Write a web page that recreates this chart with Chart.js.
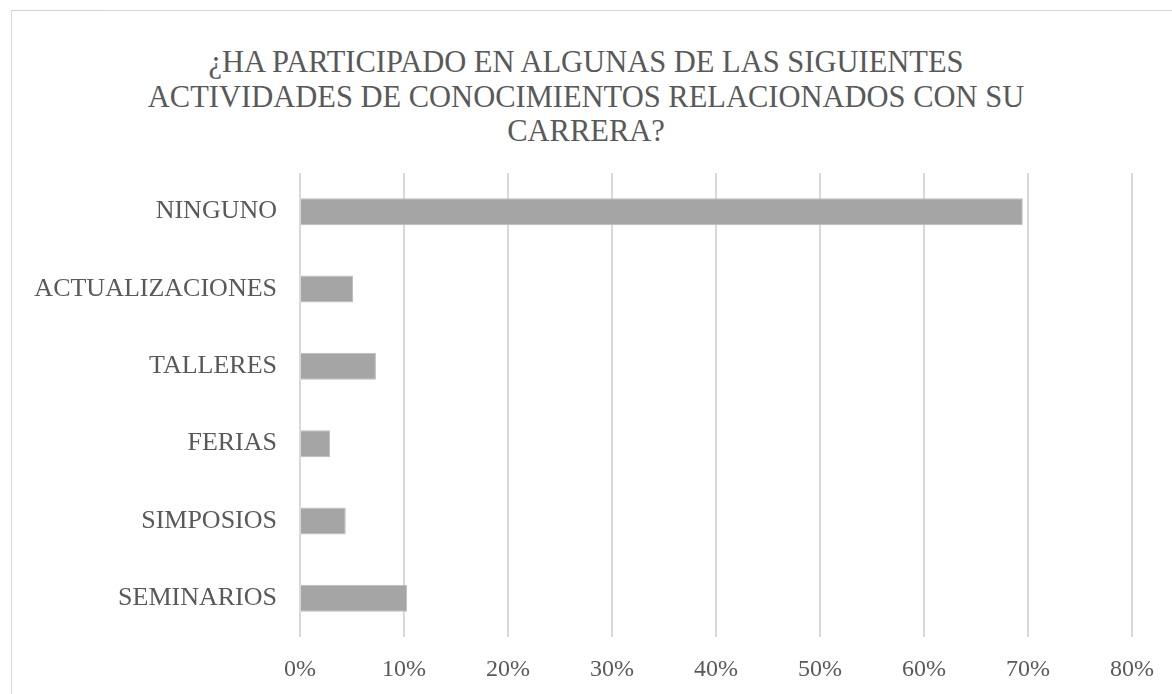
<!DOCTYPE html>
<html>
<head>
<meta charset="utf-8">
<script src="https://cdn.jsdelivr.net/npm/chart.js@4"></script>
<style>
  html, body { margin: 0; padding: 0; background: #fff; }
  #wrap { position: relative; width: 1172px; height: 694px; overflow: hidden; }
  #frame { position: absolute; left: 11px; top: 10px; width: 1200px; height: 720px;
           border-top: 1px solid #D9D9D9; border-left: 1px solid #D9D9D9; }
  #nick { position: absolute; left: 11px; top: 10px; width: 94px; height: 1px; background: #CFCFCF; }
  #box { position: absolute; left: 0; top: 0; width: 1172px; height: 694px; }
  #title { position: absolute; left: 0; top: 45px; width: 1172px; text-align: center;
           font-family: 'Liberation Serif', 'Times New Roman', serif; font-size: 30.5px;
           line-height: 34.5px; color: #595959; }
</style>
</head>
<body>
<div id="wrap">
  <div id="frame"></div>
  <div id="nick"></div>
  <div id="title"></div>
  <div id="box"><canvas class="activities_chart"></canvas></div>
</div>
<script>
const categories = ["NINGUNO", "ACTUALIZACIONES", "TALLERES", "FERIAS", "SIMPOSIOS", "SEMINARIOS"];
const share = [69.5, 5.1, 7.3, 2.9, 4.4, 10.3];
const titleLines = [
  "¿HA PARTICIPADO EN ALGUNAS DE LAS SIGUIENTES",
  "ACTIVIDADES DE CONOCIMIENTOS RELACIONADOS CON SU",
  "CARRERA?"
];

const textColor = "#595959";
const gridColor = "#D9D9D9";
const serif = "'Liberation Serif', 'Times New Roman', serif";

// title as page text, centred on the whole frame like the original
const titleEl = document.getElementById('title');
titleLines.forEach(line => {
  const d = document.createElement('div');
  d.textContent = line;
  titleEl.appendChild(d);
});

const activities_chart = document.querySelector('.activities_chart').getContext('2d');
const chart1 = new Chart(activities_chart, {
  type: 'bar',
  data: {
    labels: categories,
    datasets: [{
      label: "Participación",
      data: share,
      backgroundColor: "#A5A5A5",
      borderColor: "#BDBDBD",
      borderWidth: 1,
      categoryPercentage: 1,
      barPercentage: 0.35,
    }],
  },
  options: {
    indexAxis: 'y',
    responsive: true,
    maintainAspectRatio: false,
    animation: false,
    layout: { padding: { left: 0, right: 39, top: 173, bottom: 0 } },
    plugins: {
      legend: { display: false },
      tooltip: { enabled: false },
      title: { display: false },
    },
    scales: {
      x: {
        min: 0,
        max: 80,
        ticks: {
          stepSize: 10,
          color: textColor,
          font: { family: serif, size: 24 },
          padding: 18,
          callback: v => v + "%",
        },
        grid: { color: gridColor, lineWidth: 2, drawTicks: false },
        border: { display: false },
        afterFit: s => { s.height = 57; },
      },
      y: {
        ticks: {
          color: textColor,
          font: { family: serif, size: 26 },
          padding: 23,
        },
        grid: { display: false, drawTicks: false },
        border: { display: false },
        afterFit: s => { s.width = 300; },
      },
    },
  },
});
</script>
</body>
</html>
